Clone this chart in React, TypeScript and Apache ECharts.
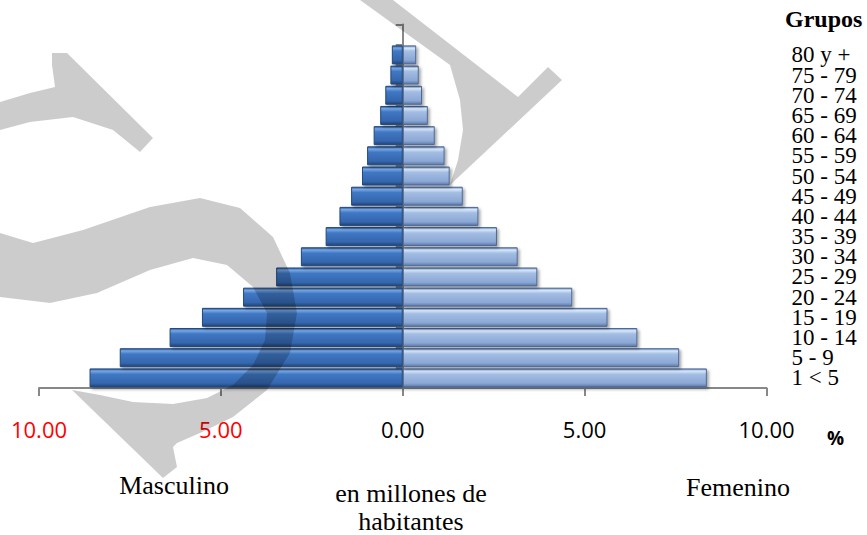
import React, { useEffect, useRef } from "react";
import * as echarts from "echarts";

// Age groups, bottom to top
const groups = [
  "1 < 5", "5 - 9", "10 - 14", "15 - 19", "20 - 24", "25 - 29", "30 - 34",
  "35 - 39", "40 - 44", "45 - 49", "50 - 54", "55 - 59", "60 - 64", "65 - 69",
  "70 - 74", "75 - 79", "80 y +",
];
// Percent of population, bottom to top
const masculino = [8.61, 7.78, 6.41, 5.52, 4.39, 3.48, 2.8, 2.12, 1.74, 1.42, 1.12, 0.98, 0.8, 0.62, 0.48, 0.34, 0.3];
const femenino = [8.36, 7.6, 6.45, 5.63, 4.66, 3.7, 3.16, 2.59, 2.08, 1.65, 1.29, 1.15, 0.88, 0.69, 0.53, 0.44, 0.37];
const xMin = -10;
const xMax = 10;
const xStep = 5;

// decorative watermark outlines (page pixels)
const wmA = [[0,102],[30,93],[55,87],[52,65],[52,53],[67,53],[153,138],[140,152],[113,130],[73,117],[30,122],[0,130]];
const wmB = [[0,233],[33,243],[83,230],[150,207],[200,198],[240,208],[273,237],[290,273],[297,313],[290,353],[267,390],[233,417],[200,433],[177,443],[173,447],[177,467],[163,478],[72,390],[100,395],[133,402],[173,404],[207,398],[233,385],[253,365],[265,340],[267,313],[253,287],[227,265],[193,258],[150,270],[97,293],[50,303],[0,297]];
const wmC = [[360,0],[393,0],[518,97],[548,67],[562,80],[450,185],[458,160],[463,130],[460,100],[450,65]];

const cats = [...groups, ""];

export default function App() {
  const ref = useRef<HTMLDivElement>(null);
  useEffect(() => {
    const chart = echarts.init(ref.current!, null, { renderer: "svg" });
    const axisGrey = "#888888";
    const maleGrad = new echarts.graphic.LinearGradient(0, 0, 0, 1, [
      { offset: 0, color: "#2b5a98" },
      { offset: 0.12, color: "#79a7e6" },
      { offset: 0.3, color: "#3f78c4" },
      { offset: 0.8, color: "#3566ad" },
      { offset: 1, color: "#1f4478" },
    ]);
    const femGrad = new echarts.graphic.LinearGradient(0, 0, 0, 1, [
      { offset: 0, color: "#6c8cbf" },
      { offset: 0.12, color: "#d8e8fb" },
      { offset: 0.3, color: "#a3bde3" },
      { offset: 0.8, color: "#8ba7d4" },
      { offset: 1, color: "#5a77a6" },
    ]);
    const wmStyle = { fill: "rgba(0,0,0,0.2)" };
    chart.setOption({
      animation: false,
      backgroundColor: "#ffffff",
      grid: { left: 39, right: 100.5, top: 24.6, bottom: 147, containLabel: false },
      xAxis: {
        type: "value",
        min: xMin,
        max: xMax,
        interval: xStep,
        axisLine: { show: true, lineStyle: { color: axisGrey, width: 2 } },
        axisTick: { show: true, length: 8, lineStyle: { color: axisGrey, width: 2 } },
        splitLine: { show: false },
        axisLabel: {
          margin: 30,
          fontFamily: "Open Sans",
          fontSize: 22,
          color: (v: string) => (parseFloat(v) < 0 ? "#ff0000" : "#000000"),
          formatter: (v: number) => Math.abs(v).toFixed(2),
        },
      },
      yAxis: [
        {
          type: "category",
          data: cats,
          position: "left",
          axisLine: { show: true, onZero: true, lineStyle: { color: axisGrey, width: 2 } },
          axisTick: { show: true, length: 7, lineStyle: { color: axisGrey, width: 2 } },
          axisLabel: { show: false },
        },
        {
          type: "category",
          data: cats,
          position: "right",
          axisLine: { show: false },
          axisTick: { show: false },
          axisLabel: {
            interval: 0,
            margin: 25,
            fontFamily: "Liberation Serif",
            fontSize: 23,
            lineHeight: 20,
            color: "#000000",
          },
        },
      ],
      series: [
        {
          type: "bar",
          name: "Masculino",
          stack: "p",
          barCategoryGap: "6%",
          data: masculino.map((v) => -v),
          itemStyle: {
            color: maleGrad,
            borderColor: "#23487a",
            borderWidth: 1,
            shadowColor: "rgba(0,0,0,0.35)",
            shadowOffsetX: 2,
            shadowOffsetY: 2,
            shadowBlur: 3,
          },
        },
        {
          type: "bar",
          name: "Femenino",
          stack: "p",
          barCategoryGap: "6%",
          data: femenino,
          itemStyle: {
            color: femGrad,
            borderColor: "#4d6894",
            borderWidth: 1,
            shadowColor: "rgba(0,0,0,0.35)",
            shadowOffsetX: 2,
            shadowOffsetY: 2,
            shadowBlur: 3,
          },
        },
      ],
      graphic: [
        { type: "text", left: 785, top: 7, style: { text: "Grupos", fontFamily: "Liberation Serif", fontSize: 24, fontWeight: "bold", fill: "#000" } },
        { type: "text", left: 827, top: 428, style: { text: "%", fontFamily: "Open Sans", fontSize: 19, fontWeight: "bold", fill: "#000" } },
        { type: "text", x: 174, y: 485, style: { text: "Masculino", fontFamily: "Liberation Serif", fontSize: 26, fill: "#000", align: "center", verticalAlign: "middle" } },
        { type: "text", x: 411, y: 507, style: { text: "en millones de\nhabitantes", fontFamily: "Liberation Serif", fontSize: 26, lineHeight: 28, fill: "#000", align: "center", verticalAlign: "middle" } },
        { type: "text", x: 738, y: 487, style: { text: "Femenino", fontFamily: "Liberation Serif", fontSize: 26, fill: "#000", align: "center", verticalAlign: "middle" } },
        { type: "polygon", z: 100, silent: true, shape: { points: wmA }, style: wmStyle },
        { type: "polygon", z: 100, silent: true, shape: { points: wmB }, style: wmStyle },
        { type: "polygon", z: 100, silent: true, shape: { points: wmC }, style: wmStyle },
      ],
    });
    return () => chart.dispose();
  }, []);
  return (
    <div
      ref={ref}
      style={{ position: "fixed", left: 0, top: 0, width: 867, height: 535, background: "#fff" }}
    />
  );
}
